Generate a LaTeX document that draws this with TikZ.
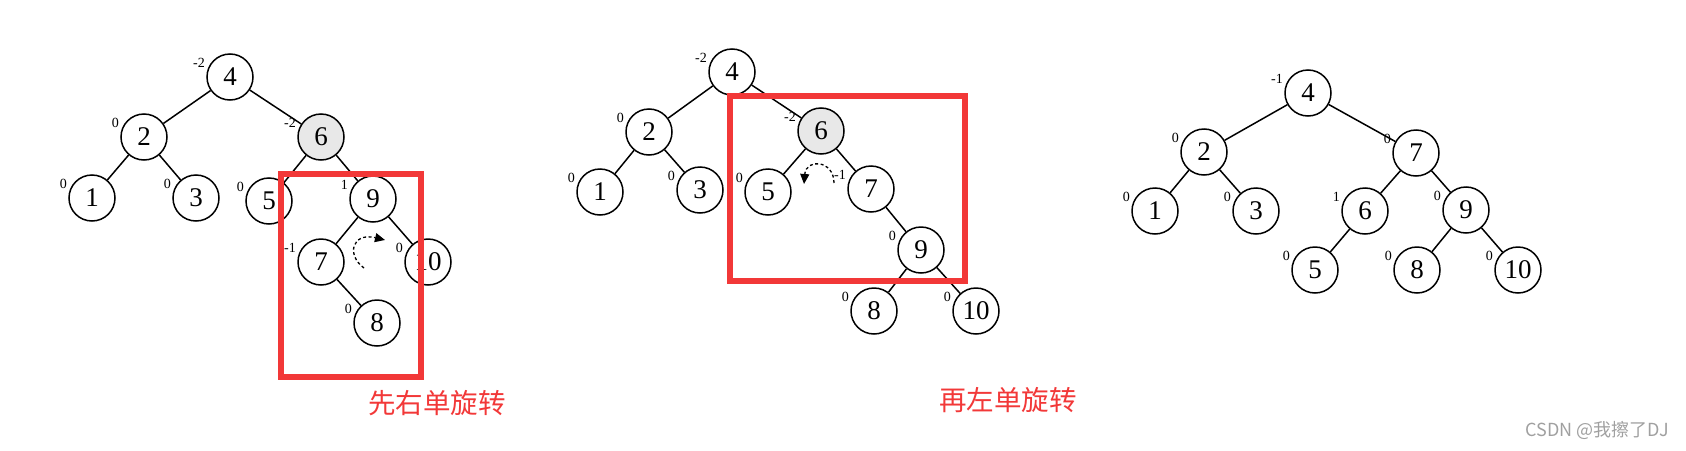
\documentclass[tikz,border=0pt]{standalone}
\usepackage{fontspec}
\setmainfont{Liberation Serif}
\newfontfamily\cjkfont{Noto Sans CJK SC}
\usetikzlibrary{arrows.meta,calc}
\definecolor{boxred}{RGB}{242,56,56}
\definecolor{wmgray}{RGB}{160,160,160}
\definecolor{hlgray}{RGB}{232,232,232}
\newcommand\BFL[3]{\node[bflabel] (#1) at ($(#2)+(-25,-14)$) {#3};}
\begin{document}
\begin{tikzpicture}[x=1pt,y=-1pt,
  tn/.style={circle,draw,line width=1.5pt,minimum size=46pt,inner sep=0pt,font=\fontsize{27}{27}\selectfont,fill=white},
  hl/.style={fill=hlgray},
  bflabel/.style={font=\fontsize{14}{14}\selectfont,anchor=east,inner sep=0pt},
  link/.style={line width=1.5pt},
  redbox/.style={draw=boxred,line width=6pt},
  captext/.style={text=boxred,font=\cjkfont\fontsize{27.5}{28}\selectfont,inner sep=0pt},
  rotarrow/.style={line width=1.3pt,dash pattern=on 3pt off 2.5pt,-{Triangle[length=10pt,width=9pt]}}
]
\useasboundingbox (0,0) rectangle (1686,450);

% ---------- tree 1 ----------
\node[tn] (a4) at (230,77) {4};
\node[tn] (a2) at (144,137) {2};
\node[tn,hl] (a6) at (321,137) {6};
\node[tn] (a1) at (92,198) {1};
\node[tn] (a3) at (196,198) {3};
\node[tn] (a5) at (269,201) {5};
\node[tn] (a9) at (373,199) {9};
\node[tn] (a7) at (321,262) {7};
\node[tn] (a10) at (428,262) {10};
\node[tn] (a8) at (377,323) {8};
\foreach \u/\v in {a4/a2,a4/a6,a2/a1,a2/a3,a6/a5,a6/a9,a9/a7,a9/a10,a7/a8}
  \draw[link] (\u) -- (\v);
\BFL{la4}{a4}{-2}
\BFL{la2}{a2}{0}
\BFL{la6}{a6}{-2}
\BFL{la1}{a1}{0}
\BFL{la3}{a3}{0}
\BFL{la5}{a5}{0}
\BFL{la9}{a9}{1}
\BFL{la7}{a7}{-1}
\BFL{la10}{a10}{0}
\BFL{la8}{a8}{0}
\coordinate (r1s) at (364,268);
\coordinate (r1e) at (385,240);
\draw[rotarrow] (r1s) .. controls (346,255) and (352,232) .. (r1e);

% ---------- tree 2 ----------
\node[tn] (b4) at (732,72) {4};
\node[tn] (b2) at (649,132) {2};
\node[tn,hl] (b6) at (821,131) {6};
\node[tn] (b1) at (600,192) {1};
\node[tn] (b3) at (700,190) {3};
\node[tn] (b5) at (768,192) {5};
\node[tn] (b7) at (871,189) {7};
\node[tn] (b9) at (921,250) {9};
\node[tn] (b8) at (874,311) {8};
\node[tn] (b10) at (976,311) {10};
\foreach \u/\v in {b4/b2,b4/b6,b2/b1,b2/b3,b6/b5,b6/b7,b7/b9,b9/b8,b9/b10}
  \draw[link] (\u) -- (\v);
\BFL{lb4}{b4}{-2}
\BFL{lb2}{b2}{0}
\BFL{lb6}{b6}{-2}
\BFL{lb1}{b1}{0}
\BFL{lb3}{b3}{0}
\BFL{lb5}{b5}{0}
\BFL{lb7}{b7}{-1}
\BFL{lb9}{b9}{0}
\BFL{lb8}{b8}{0}
\BFL{lb10}{b10}{0}
\coordinate (r2s) at (834,183);
\coordinate (r2e) at (804,184);
\draw[rotarrow] (r2s) .. controls (834,160) and (806,158) .. (r2e);

% ---------- tree 3 ----------
\node[tn] (c4) at (1308,93) {4};
\node[tn] (c2) at (1204,152) {2};
\node[tn] (c7) at (1416,153) {7};
\node[tn] (c1) at (1155,211) {1};
\node[tn] (c3) at (1256,211) {3};
\node[tn] (c6) at (1365,211) {6};
\node[tn] (c9) at (1466,210) {9};
\node[tn] (c5) at (1315,270) {5};
\node[tn] (c8) at (1417,270) {8};
\node[tn] (c10) at (1518,270) {10};
\foreach \u/\v in {c4/c2,c4/c7,c2/c1,c2/c3,c7/c6,c7/c9,c6/c5,c9/c8,c9/c10}
  \draw[link] (\u) -- (\v);
\BFL{lc4}{c4}{-1}
\BFL{lc2}{c2}{0}
\BFL{lc7}{c7}{0}
\BFL{lc1}{c1}{0}
\BFL{lc3}{c3}{0}
\BFL{lc6}{c6}{1}
\BFL{lc9}{c9}{0}
\BFL{lc5}{c5}{0}
\BFL{lc8}{c8}{0}
\BFL{lc10}{c10}{0}

% ---------- red boxes and captions ----------
\draw[redbox] (281,174) rectangle (421,377);
\draw[redbox] (730,96) rectangle (965,281);
\node[captext] (cap1) at (437,403) {先右单旋转};
\node[captext] (cap2) at (1008,400) {再左单旋转};

\node[text=wmgray,font=\cjkfont\fontsize{18}{18}\selectfont,inner sep=0pt] (wm) at (1597,430) {CSDN @我擦了DJ};
\end{tikzpicture}
\end{document}
